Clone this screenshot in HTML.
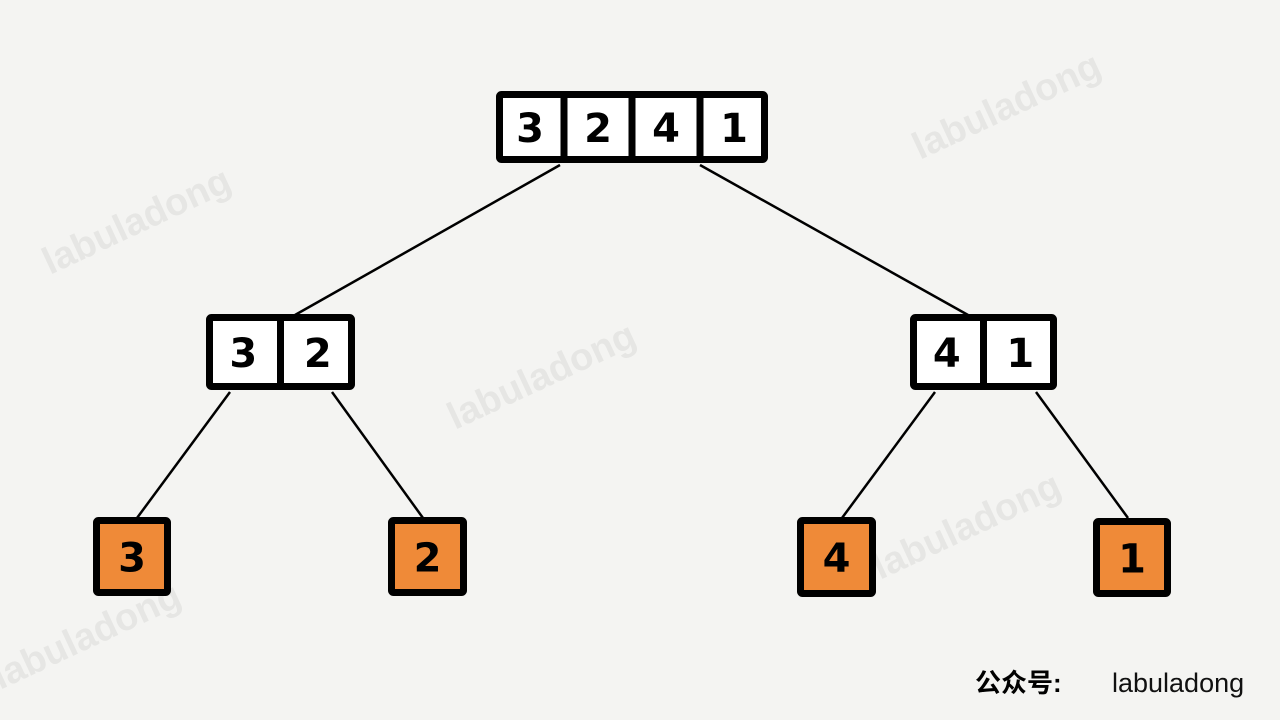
<!DOCTYPE html>
<html><head><meta charset="utf-8"><style>
body{margin:0;width:1280px;height:720px;background:#f4f4f2;overflow:hidden;font-family:"Liberation Sans",sans-serif}
svg{position:absolute;left:0;top:0}
</style></head><body>
<svg width="1280" height="720">
<g fill="#e6e6e4" font-size="38" font-weight="bold">
<text transform="translate(50,275) rotate(-25)">labuladong</text>
<text transform="translate(455,430) rotate(-25)">labuladong</text>
<text transform="translate(920,160) rotate(-25)">labuladong</text>
<text transform="translate(880,580) rotate(-25)">labuladong</text>
<text transform="translate(0,690) rotate(-25)">labuladong</text>
</g>
<g stroke="#000" stroke-width="2.5">
<line x1="560" y1="165" x2="295" y2="315"/><line x1="700" y1="165" x2="968" y2="315"/>
<line x1="230" y1="392" x2="137" y2="518"/><line x1="332" y1="392" x2="423" y2="518"/>
<line x1="935" y1="392" x2="842" y2="518"/><line x1="1036" y1="392" x2="1128" y2="518"/>
</g>
<g id="nodes" font-family="DejaVu Sans, sans-serif" font-size="40" text-anchor="middle" font-weight="bold"></g>
<text x="975" y="692" font-size="26" font-family="Liberation Sans, Noto Sans CJK SC, sans-serif" font-weight="bold">公众号:</text>
<text x="1112" y="692" font-size="27" fill="#111">labuladong</text>
</svg>
<script>
const boxes=[
 {x:496,y:91,w:272,h:72,v:[3,2,4,1],c:"#fff"},
 {x:206,y:314,w:149,h:76,v:[3,2],c:"#fff"},
 {x:910,y:314,w:147,h:76,v:[4,1],c:"#fff"},
 {x:93,y:517,w:78,h:79,v:[3],c:"#ef8a38"},
 {x:388,y:517,w:79,h:79,v:[2],c:"#ef8a38"},
 {x:797,y:517,w:79,h:80,v:[4],c:"#ef8a38"},
 {x:1093,y:518,w:78,h:79,v:[1],c:"#ef8a38"}];
const g=document.getElementById('nodes');const NS="http://www.w3.org/2000/svg";
boxes.forEach(b=>{
 const cw=b.w/b.v.length;
 const r=document.createElementNS(NS,'rect');
 
 
 r.setAttribute('x',b.x+3.5);r.setAttribute('y',b.y+3.5);r.setAttribute('width',b.w-7);r.setAttribute('height',b.h-7);
 r.setAttribute('fill',b.c);r.setAttribute('stroke','#000');r.setAttribute('stroke-width','7');r.setAttribute('rx','2');
 g.appendChild(r);
 b.v.forEach((v,i)=>{
  if(i>0){
   const l=document.createElementNS(NS,'line');
   
   
   l.setAttribute('x1',b.x+i*cw);l.setAttribute('x2',b.x+i*cw);l.setAttribute('y1',b.y);l.setAttribute('y2',b.y+b.h);
   l.setAttribute('stroke','#000');l.setAttribute('stroke-width','7');
   g.appendChild(l);
  }
  const t=document.createElementNS(NS,'text');
  
  
  t.setAttribute('x',b.x+i*cw+cw/2);t.setAttribute('y',b.y+b.h/2+15);t.textContent=v;
  g.appendChild(t);
 });
});
</script>
</body></html>
